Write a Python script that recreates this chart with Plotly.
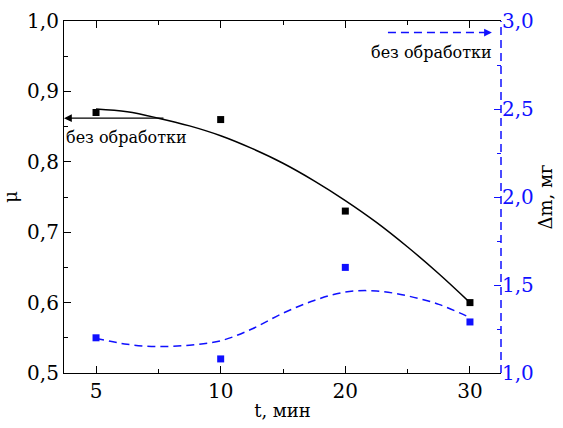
import plotly.graph_objects as go

# categories (time, min) shown at equal spacing
t_labels = ["5", "10", "20", "30"]
t_pos = [0, 1, 2, 3]

# measured points
mu_vals = [0.87, 0.86, 0.73, 0.60]
dm_vals = [1.20, 1.08, 1.60, 1.29]

# fitted curves (positions on the category index scale)
fit_pos = [0, 0.25, 0.5, 0.75, 1.0, 1.25, 1.5, 1.75, 2.0, 2.25, 2.5, 2.75, 3.0]
mu_fit = [0.875, 0.871, 0.862, 0.851, 0.837, 0.819, 0.798, 0.773, 0.745, 0.714, 0.679, 0.641, 0.600]
dm_fit = [1.197, 1.163, 1.150, 1.158, 1.183, 1.250, 1.340, 1.412, 1.460, 1.466, 1.438, 1.390, 1.315]

ff = "DejaVu Serif"
blue = "#1010ff"

fig = go.Figure()
fig.add_trace(go.Scatter(x=fit_pos, y=mu_fit, mode="lines", line=dict(color="black", width=1.5, shape="spline"), showlegend=False))
fig.add_trace(go.Scatter(x=t_pos, y=mu_vals, mode="markers", marker=dict(symbol="square", size=7, color="black"), showlegend=False))
fig.add_trace(go.Scatter(x=fit_pos, y=dm_fit, mode="lines", yaxis="y2", line=dict(color=blue, width=1.5, dash="8px,5px", shape="spline"), showlegend=False))
fig.add_trace(go.Scatter(x=t_pos, y=dm_vals, mode="markers", yaxis="y2", marker=dict(symbol="square", size=7, color=blue), showlegend=False))

x_range = [-0.257, 3.249]

fig.update_layout(
    width=563, height=428,
    margin=dict(l=64, r=62, t=21, b=55, autoexpand=False),
    plot_bgcolor="white", paper_bgcolor="white",
    font=dict(family=ff, size=19, color="black"),
    xaxis=dict(
        range=x_range, tickmode="array", tickvals=t_pos, ticktext=t_labels,
        showgrid=False, zeroline=False, showline=True, linecolor="black", linewidth=1.2,
        mirror="ticks", ticks="inside", ticklen=7, tickcolor="black", automargin=False,
        minor=dict(tickmode="array", tickvals=[-0.5, 0.5, 1.5, 2.5, 3.5], ticks="inside", ticklen=4, tickcolor="black"),
        title=dict(text="t, мин", font=dict(size=18, family=ff), standoff=2),
        tickfont=dict(size=20, family=ff),
    ),
    yaxis=dict(
        range=[0.5, 1.0], tickvals=[0.5, 0.6, 0.7, 0.8, 0.9, 1.0],
        ticktext=["0,5", "0,6", "0,7", "0,8", "0,9", "1,0"],
        showgrid=False, zeroline=False, showline=True, linecolor="black", linewidth=1.2,
        ticks="inside", ticklen=7, tickcolor="black", automargin=False,
        minor=dict(dtick=0.05, ticks="inside", ticklen=4, tickcolor="black"),
        title=dict(text="μ", font=dict(size=18, family=ff), standoff=8),
        tickfont=dict(size=20, family=ff),
    ),
    yaxis2=dict(
        range=[1.0, 3.0], overlaying="y", side="right",
        tickvals=[1.0, 1.5, 2.0, 2.5, 3.0], ticktext=["1,0", "1,5", "2,0", "2,5", "3,0"],
        showgrid=False, zeroline=False, showline=False, automargin=False,
        ticks="inside", ticklen=7, tickcolor=blue,
        minor=dict(dtick=0.25, ticks="inside", ticklen=4, tickcolor=blue),
        tickfont=dict(size=20, color=blue, family=ff),
        title=dict(text="Δm, мг", font=dict(size=18, color="black", family=ff), standoff=6),
    ),
    shapes=[
        dict(type="line", xref="paper", yref="paper", x0=1, x1=1, y0=0, y1=1,
             line=dict(color=blue, width=1.5, dash="8px,5px")),
        dict(type="line", xref="x", yref="y2", x0=2.342, x1=3.12, y0=2.934, y1=2.934,
             line=dict(color=blue, width=1.5, dash="8px,5px")),
    ],
    annotations=[
        dict(x=x_range[0], y=0.862, xref="x", yref="y", ax=0.553, ay=0.862, axref="x", ayref="y",
             showarrow=True, arrowhead=2, arrowsize=1.2, arrowwidth=1.3, arrowcolor="black", text=""),
        dict(x=0.742, y=0.835, xref="x", yref="y", text="без обработки", showarrow=False,
             font=dict(size=16, color="black", family=ff), xanchor="right", yanchor="middle"),
        dict(x=3.176, y=2.934, xref="x", yref="y2", ax=3.10, ay=2.934, axref="x", ayref="y2",
             showarrow=True, arrowhead=2, arrowsize=1.2, arrowwidth=1.3, arrowcolor=blue, text=""),
        dict(x=3.19, y=2.82, xref="x", yref="y2", text="без обработки", showarrow=False,
             font=dict(size=16, color="black", family=ff), xanchor="right", yanchor="middle"),
    ],
)

fig.write_html("out.html", config={"displayModeBar": False},
               post_script="document.body.style.margin='0';")
